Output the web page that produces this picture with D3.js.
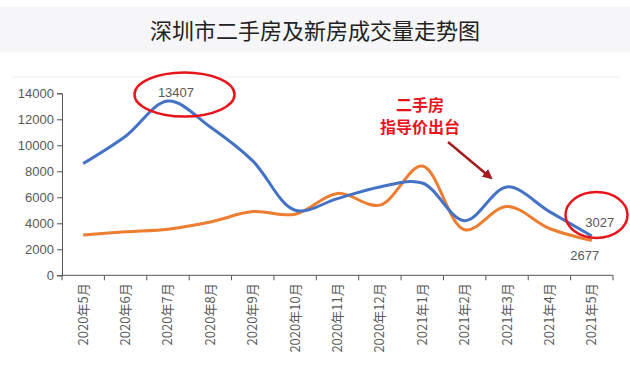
<!DOCTYPE html>
<html>
<head>
<meta charset="utf-8">
<script src="https://cdn.jsdelivr.net/npm/d3@7"></script>
<style>
  body { margin: 0; background: #fff; }
  text { font-family: "Liberation Sans", "Noto Sans CJK SC", sans-serif; }
  .cjk { font-family: "Noto Sans CJK SC", sans-serif; }
</style>
</head>
<body>
<svg id="chart" width="630" height="368"></svg>
<script>
// months on the x axis
var months = ["2020年5月", "2020年6月", "2020年7月", "2020年8月", "2020年9月", "2020年10月",
  "2020年11月", "2020年12月", "2021年1月", "2021年2月", "2021年3月", "2021年4月", "2021年5月"];
// 二手房 (blue) and 新房 (orange) volumes
var secondHand = [8600, 10700, 13407, 11400, 8800, 5000, 5900, 6800, 7100, 4200, 6800, 4900, 3027];
var newHomes = [3100, 3350, 3550, 4100, 4900, 4700, 6300, 5400, 8400, 3500, 5300, 3600, 2677];
var yTicks = [0, 2000, 4000, 6000, 8000, 10000, 12000, 14000];

var svg = d3.select("#chart");

// title band
svg.append("rect").attr("x", 0).attr("y", 7).attr("width", 630).attr("height", 45)
  .attr("fill", "#f6f6f8");
svg.append("text").attr("class", "cjk")
  .attr("x", 315).attr("y", 38.5)
  .attr("text-anchor", "middle")
  .attr("font-size", 22)
  .attr("fill", "#222")
  .text("深圳市二手房及新房成交量走势图");

// faint chart frame line
svg.append("line").attr("x1", 12).attr("x2", 620).attr("y1", 77).attr("y2", 77)
  .attr("stroke", "#ededed");

var x = d3.scaleBand().domain(months).range([62, 613]);
var y = d3.scaleLinear().domain([0, 14000]).range([275.3, 93.3]);

// y axis
var yAxis = svg.append("g").attr("transform", "translate(62,0)")
  .call(d3.axisLeft(y).tickValues(yTicks).tickSize(5).tickPadding(3).tickFormat(d3.format("d")));
yAxis.select(".domain").attr("stroke", "#555");
yAxis.selectAll(".tick line").attr("stroke", "#555");
yAxis.selectAll("text").attr("fill", "#595959").attr("font-size", 13);

// x axis with ticks between months
var xAxis = svg.append("g").attr("transform", "translate(0,275.3)");
xAxis.append("line").attr("x1", 62).attr("x2", 613).attr("stroke", "#555");
var bounds = months.map(function(m) { return x(m); }).concat([x.range()[1]]);
xAxis.selectAll(".xt").data(bounds).enter().append("line")
  .attr("x1", function(d) { return d; }).attr("x2", function(d) { return d; })
  .attr("y1", 0).attr("y2", 5).attr("stroke", "#555");
xAxis.selectAll(".xl").data(months).enter().append("text")
  .attr("class", "cjk")
  .attr("transform", function(d) {
    return "translate(" + (x(d) + x.bandwidth() / 2 + 4.5) + ",8) rotate(-90)";
  })
  .attr("text-anchor", "end")
  .attr("font-size", 13)
  .attr("fill", "#595959")
  .text(function(d) { return d; });

var line = d3.line()
  .x(function(d, i) { return x(months[i]) + x.bandwidth() / 2; })
  .y(function(d) { return y(d); })
  .curve(d3.curveCatmullRom.alpha(0.5));

svg.append("path").datum(newHomes).attr("d", line)
  .attr("fill", "none").attr("stroke", "#ed7d31").attr("stroke-width", 3);
svg.append("path").datum(secondHand).attr("d", line)
  .attr("fill", "none").attr("stroke", "#4472c4").attr("stroke-width", 3);

// value labels
var cx = function(i) { return x(months[i]) + x.bandwidth() / 2; };
svg.append("text").attr("x", cx(2) + 8).attr("y", 97).attr("text-anchor", "middle")
  .attr("font-size", 13).attr("fill", "#595959").text(secondHand[2]);
svg.append("text").attr("x", cx(12) + 8).attr("y", 227).attr("text-anchor", "middle")
  .attr("font-size", 13).attr("fill", "#595959").text(secondHand[12]);
svg.append("text").attr("x", cx(12) - 7).attr("y", 260).attr("text-anchor", "middle")
  .attr("font-size", 13).attr("fill", "#595959").text(newHomes[12]);

// red circles
svg.append("ellipse").attr("cx", 184.5).attr("cy", 94.5).attr("rx", 50).attr("ry", 22)
  .attr("fill", "none").attr("stroke", "#e8141b").attr("stroke-width", 2.5);
svg.append("ellipse").attr("cx", 596.5).attr("cy", 215).attr("rx", 31).attr("ry", 23)
  .attr("fill", "none").attr("stroke", "#e8141b").attr("stroke-width", 2.5);

// annotation
svg.append("text").attr("class", "cjk").attr("x", 420).attr("y", 111)
  .attr("text-anchor", "middle").attr("font-size", 16).attr("font-weight", "bold")
  .attr("fill", "#e8141b").text("二手房");
svg.append("text").attr("class", "cjk").attr("x", 420).attr("y", 133)
  .attr("text-anchor", "middle").attr("font-size", 16).attr("font-weight", "bold")
  .attr("fill", "#e8141b").text("指导价出台");

svg.append("defs").append("marker").attr("id", "ah")
  .attr("viewBox", "0 0 10 10").attr("refX", 8).attr("refY", 5)
  .attr("markerWidth", 4).attr("markerHeight", 4).attr("orient", "auto")
  .append("path").attr("d", "M0,0 L10,5 L0,10 z").attr("fill", "#a51d23");
svg.append("line").attr("x1", 448).attr("y1", 142).attr("x2", 491).attr("y2", 178)
  .attr("stroke", "#a51d23").attr("stroke-width", 2.5).attr("marker-end", "url(#ah)");
</script>
</body>
</html>
